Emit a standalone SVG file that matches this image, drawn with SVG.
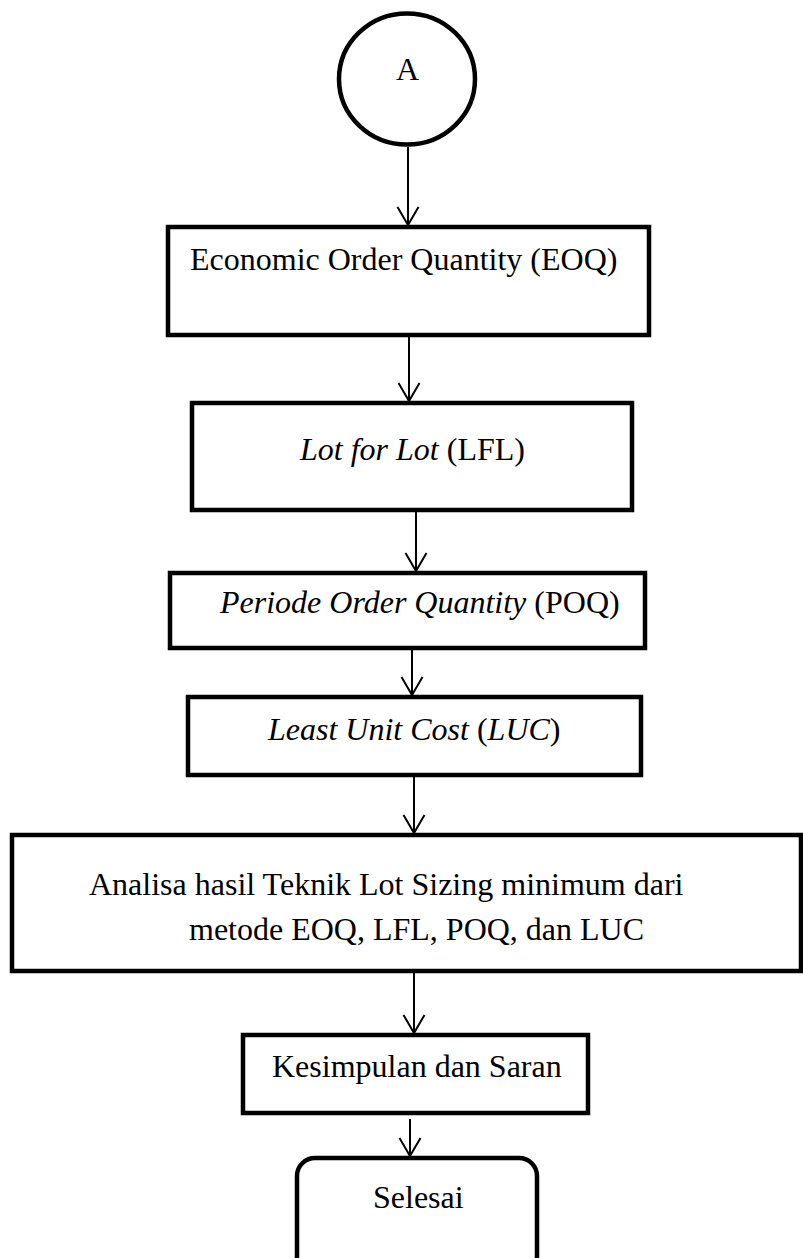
<svg xmlns="http://www.w3.org/2000/svg" width="803" height="1258" viewBox="0 0 803 1258">
<style>
.box{fill:#fff;stroke:#000;stroke-width:4.5}
.t{font-family:"Liberation Serif","Times New Roman",serif;font-size:32px;fill:#000}
.i{font-style:italic}
.c{fill:none;stroke:#000;stroke-width:2}
</style>
<defs>
<marker id="ah" markerUnits="userSpaceOnUse" markerWidth="40" markerHeight="40" refX="0" refY="0" orient="auto" overflow="visible">
<path d="M-18,-10.5 L0,0 L-18,10.5" fill="none" stroke="#000" stroke-width="2"/>
</marker>
</defs>
<rect width="803" height="1258" fill="#fff"/>
<g id="connectors">
<line class="c" x1="408" y1="147" x2="408" y2="225" marker-end="url(#ah)"/>
<line class="c" x1="409" y1="337" x2="409" y2="401" marker-end="url(#ah)"/>
<line class="c" x1="416" y1="512" x2="416" y2="571" marker-end="url(#ah)"/>
<line class="c" x1="412" y1="650" x2="412" y2="695" marker-end="url(#ah)"/>
<line class="c" x1="414" y1="777" x2="414" y2="833" marker-end="url(#ah)"/>
<line class="c" x1="414" y1="973" x2="414" y2="1033" marker-end="url(#ah)"/>
<line class="c" x1="410" y1="1119" x2="410" y2="1156" marker-end="url(#ah)"/>
</g>
<g id="start">
<ellipse cx="407" cy="79" rx="68" ry="65.5" fill="#fff" stroke="#000" stroke-width="4.5"/>
<text class="t" x="407.5" y="80" text-anchor="middle" font-size="30">A</text>
</g>
<g id="eoq">
<rect class="box" x="168" y="227" width="481" height="108"/>
<text class="t" x="190" y="270">Economic Order Quantity (EOQ)</text>
</g>
<g id="lfl">
<rect class="box" x="192" y="403" width="440" height="107"/>
<text class="t" x="300" y="460"><tspan class="i">Lot for Lot</tspan> (LFL)</text>
</g>
<g id="poq">
<rect class="box" x="170" y="573" width="475" height="75"/>
<text class="t" x="220" y="613"><tspan class="i">Periode Order Quantity</tspan> (POQ)</text>
</g>
<g id="luc">
<rect class="box" x="188" y="697" width="453" height="78"/>
<text class="t" x="268" y="740"><tspan class="i">Least Unit Cost</tspan> (<tspan class="i">LUC</tspan>)</text>
</g>
<g id="analisa">
<rect class="box" x="12" y="835" width="789" height="136"/>
<text class="t" x="89" y="895">Analisa hasil Teknik Lot Sizing minimum dari</text>
<text class="t" x="189" y="940">metode EOQ, LFL, POQ, dan LUC</text>
</g>
<g id="kesimpulan">
<rect class="box" x="243" y="1035" width="345" height="78"/>
<text class="t" x="272" y="1077">Kesimpulan dan Saran</text>
</g>
<g id="selesai">
<rect class="box" x="297" y="1158" width="240" height="120" rx="18" ry="18"/>
<text class="t" x="373" y="1208">Selesai</text>
</g>
</svg>
